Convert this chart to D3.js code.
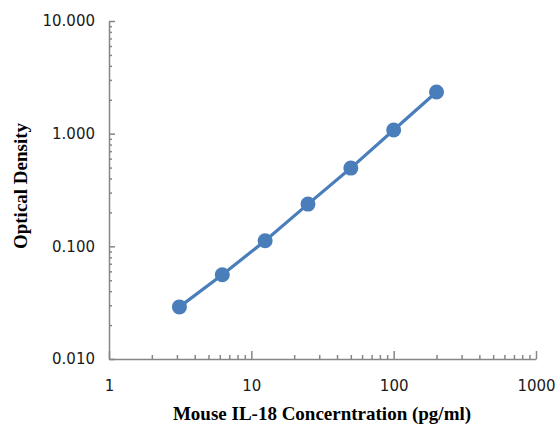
<!DOCTYPE html>
<html>
<head>
<meta charset="utf-8">
<script src="https://cdn.jsdelivr.net/npm/d3@7"></script>
<style>
  body { margin: 0; background: #fff; }
</style>
</head>
<body>
<script>
// standard curve values
const concentration = [3.125, 6.25, 12.5, 25, 50, 100, 200];
const density = [0.029, 0.056, 0.112, 0.237, 0.495, 1.077, 2.34];
const xTickLabels = [1, 10, 100, 1000];
const yTickLabels = [0.01, 0.1, 1, 10];

const width = 555, height = 426;
const margin = {top: 21, right: 19, bottom: 67, left: 109};

const svg = d3.select("body").append("svg")
    .attr("width", width)
    .attr("height", height);

const x = d3.scaleLog().domain([1, 1000]).range([margin.left, width - margin.right]);
const y = d3.scaleLog().domain([0.01, 10]).range([height - margin.bottom, margin.top]);

const axisColor = "#868686";

// minor ticks 2..9 of each decade
const minor = (dom) => {
  const out = [];
  for (let p = Math.log10(dom[0]); p < Math.log10(dom[1]); p++)
    for (let k = 2; k <= 9; k++) out.push(k * Math.pow(10, p));
  return out;
};

const xAxis = svg.append("g")
    .attr("transform", `translate(0,${y(0.01)})`)
    .call(d3.axisBottom(x).tickValues(xTickLabels.concat(minor(x.domain())))
      .tickSizeInner(-4).tickSizeOuter(0).tickPadding(21)
      .tickFormat(d => xTickLabels.includes(d) ? d3.format("d")(d) : ""));

xAxis.selectAll(".tick line")
    .attr("y2", d => xTickLabels.includes(d) ? -8 : -4);

const yAxis = svg.append("g")
    .attr("transform", `translate(${x(1)},0)`)
    .call(d3.axisLeft(y).tickValues(yTickLabels.concat(minor(y.domain())))
      .tickSizeInner(-3).tickSizeOuter(0).tickPadding(14)
      .tickFormat(d => yTickLabels.includes(d) ? d3.format(".3f")(d) : ""));

yAxis.selectAll(".tick line")
    .attr("x2", d => yTickLabels.includes(d) ? 6 : 3);

svg.selectAll(".domain, .tick line")
    .attr("stroke", axisColor)
    .attr("stroke-width", 1.5);

svg.selectAll(".tick text")
    .attr("font-family", "DejaVu Sans")
    .attr("font-size", 15)
    .attr("fill", "#1a1a1a");

// the curve
const pts = concentration.map((c, i) => [c, density[i]]);

svg.append("path")
    .datum(pts)
    .attr("fill", "none")
    .attr("stroke", "#4A7EBB")
    .attr("stroke-width", 3.2)
    .attr("d", d3.line().x(d => x(d[0])).y(d => y(d[1])));

svg.selectAll("circle")
    .data(pts)
    .enter().append("circle")
    .attr("cx", d => x(d[0]))
    .attr("cy", d => y(d[1]))
    .attr("r", 7.5)
    .attr("fill", "#4A7EBB");

// axis titles
svg.append("text")
    .attr("x", 322)
    .attr("y", 420)
    .attr("text-anchor", "middle")
    .attr("font-family", "Liberation Serif")
    .attr("font-weight", "bold")
    .attr("font-size", 19)
    .text("Mouse IL-18 Concerntration (pg/ml)");

svg.append("text")
    .attr("transform", "translate(27,186) rotate(-90)")
    .attr("text-anchor", "middle")
    .attr("font-family", "Liberation Serif")
    .attr("font-weight", "bold")
    .attr("font-size", 19)
    .text("Optical Density");
</script>
</body>
</html>
